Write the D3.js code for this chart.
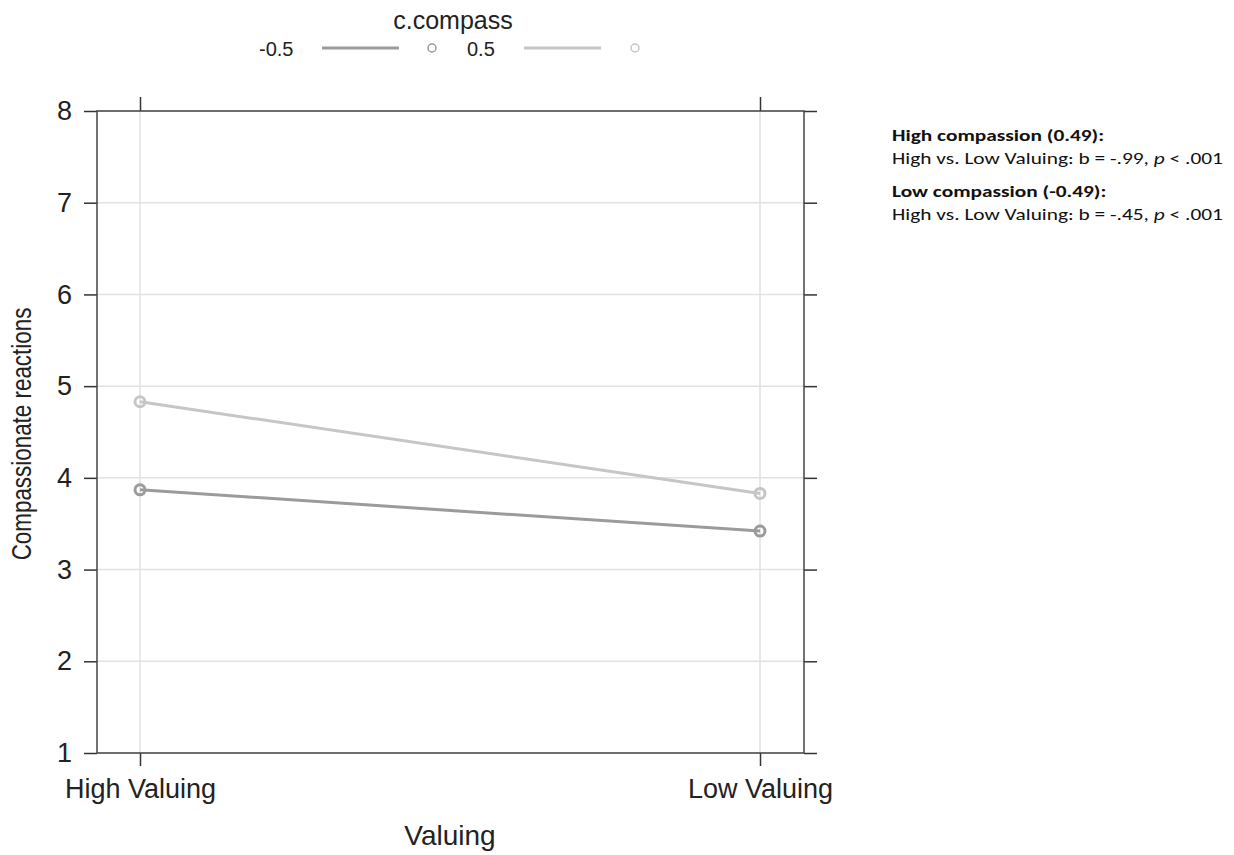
<!DOCTYPE html>
<html>
<head>
<meta charset="utf-8">
<script src="https://cdn.jsdelivr.net/npm/d3@7"></script>
<style>
  body { margin: 0; background: #fff; }
  svg { display: block; }
</style>
</head>
<body>
<svg width="1234" height="855"></svg>
<script>
// Données
let categories = ["High Valuing", "Low Valuing"];
let groupes = ["-0.5", "0.5"];
let valeursBas = [3.87, 3.42];   // c.compass = -0.5
let valeursHaut = [4.83, 3.83];  // c.compass = 0.5
let ticksY = [1, 2, 3, 4, 5, 6, 7, 8];
let notes = [
    { titre: "High compassion (0.49):", b: "-.99" },
    { titre: "Low compassion (-0.49):", b: "-.45" }
];

let svg = d3.select("svg");
let couleurs = ["#9b9b9b", "#c6c6c6"];
let series = [valeursBas, valeursHaut];

// Zone du panneau
let gauche = 97, droite = 804, haut = 111, bas = 753;

let x = d3.scalePoint()
    .domain(categories)
    .range([140, 760]);

let y = d3.scaleLinear()
    .domain([1, 8])
    .range([bas, haut]);

let police = "Liberation Sans, Arial, sans-serif";

// Grille
svg.append("g").selectAll("line")
    .data(ticksY)
    .enter().append("line")
    .attr("x1", gauche).attr("x2", droite)
    .attr("y1", d => y(d)).attr("y2", d => y(d))
    .attr("stroke", "#e2e2e2").attr("stroke-width", 1.5);

svg.append("g").selectAll("line")
    .data(categories)
    .enter().append("line")
    .attr("x1", d => x(d)).attr("x2", d => x(d))
    .attr("y1", haut).attr("y2", bas)
    .attr("stroke", "#e2e2e2").attr("stroke-width", 1.5);

// Axes (ticks des quatre côtés)
let axeG = svg.append("g")
    .attr("transform", "translate(" + gauche + ",0)")
    .call(d3.axisLeft(y).tickValues(ticksY).tickSize(13).tickPadding(12).tickFormat(d3.format("d")));
let axeD = svg.append("g")
    .attr("transform", "translate(" + droite + ",0)")
    .call(d3.axisRight(y).tickValues(ticksY).tickSize(13).tickFormat(""));
let axeB = svg.append("g")
    .attr("transform", "translate(0," + bas + ")")
    .call(d3.axisBottom(x).tickSize(13).tickPadding(13));
let axeH = svg.append("g")
    .attr("transform", "translate(0," + haut + ")")
    .call(d3.axisTop(x).tickSize(14).tickFormat(""));

[axeG, axeD, axeB, axeH].forEach(function (a) {
    a.select(".domain").remove();
    a.selectAll(".tick line").attr("stroke", "#333").attr("stroke-width", 1.5);
    a.selectAll("text")
        .style("font-family", police)
        .style("font-size", "27px")
        .attr("fill", "#222");
});

// Cadre
svg.append("rect")
    .attr("x", gauche).attr("y", haut)
    .attr("width", droite - gauche).attr("height", bas - haut)
    .attr("fill", "none")
    .attr("stroke", "#444").attr("stroke-width", 1.5);

// Lignes et points
let ligne = d3.line()
    .x((d, i) => x(categories[i]))
    .y(d => y(d));

series.forEach(function (s, k) {
    svg.append("path")
        .datum(s)
        .attr("d", ligne)
        .attr("fill", "none")
        .attr("stroke", couleurs[k])
        .attr("stroke-width", 3);

    svg.append("g").selectAll("circle")
        .data(s)
        .enter().append("circle")
        .attr("cx", (d, i) => x(categories[i]))
        .attr("cy", d => y(d))
        .attr("r", 5)
        .attr("fill", "none")
        .attr("stroke", couleurs[k])
        .attr("stroke-width", 3);
});

// Titres des axes
svg.append("text")
    .attr("x", 450).attr("y", 845)
    .attr("text-anchor", "middle")
    .style("font-family", police).style("font-size", "28px")
    .attr("fill", "#222")
    .text("Valuing");

// le titre vertical est plus court dans l'original
svg.append("text")
    .attr("transform", "translate(31,434) rotate(-90) scale(0.8,1)")
    .attr("text-anchor", "middle")
    .style("font-family", police).style("font-size", "28px")
    .attr("fill", "#222")
    .text("Compassionate reactions");

// Légende
svg.append("text")
    .attr("x", 453).attr("y", 29)
    .attr("text-anchor", "middle")
    .style("font-family", police).style("font-size", "25px")
    .attr("fill", "#222")
    .text("c.compass");

let legX = [[259, 322, 432], [467, 524, 635]];
groupes.forEach(function (g, k) {
    svg.append("text")
        .attr("x", legX[k][0]).attr("y", 56)
        .style("font-family", police).style("font-size", "20px")
        .attr("fill", "#222")
        .text(g);
    svg.append("line")
        .attr("x1", legX[k][1]).attr("x2", legX[k][1] + 77)
        .attr("y1", 48).attr("y2", 48)
        .attr("stroke", couleurs[k]).attr("stroke-width", 3);
    svg.append("circle")
        .attr("cx", legX[k][2]).attr("cy", 48).attr("r", 4)
        .attr("fill", "none")
        .attr("stroke", couleurs[k]).attr("stroke-width", 1.5);
});

// Annotations
let police2 = "Carlito, Calibri, 'Open Sans', sans-serif";
let largeurCible = 331;
let echelle = 1;
notes.forEach(function (n, k) {
    let y0 = 141 + k * 56;
    svg.append("text")
        .attr("class", "note")
        .attr("x", 0).attr("y", 0)
        .attr("transform", "translate(892," + y0 + ")")
        .style("font-family", police2).style("font-size", "16px")
        .style("font-weight", "bold")
        .attr("fill", "#111")
        .text(n.titre);
    let t = svg.append("text")
        .attr("class", "note stat")
        .attr("x", 0).attr("y", 0)
        .attr("transform", "translate(892," + (y0 + 23) + ")")
        .style("font-family", police2).style("font-size", "16px")
        .attr("fill", "#111");
    t.append("tspan").text("High vs. Low Valuing: b = " + n.b + ", ");
    t.append("tspan").style("font-style", "italic").text("p");
    t.append("tspan").text(" < .001");
});
// ajuster la largeur des annotations (seulement à l'horizontale)
let w = svg.select("text.stat").node().getComputedTextLength();
echelle = largeurCible / w;
svg.selectAll("text.note").each(function () {
    let tr = d3.select(this).attr("transform");
    d3.select(this).attr("transform", tr + " scale(" + echelle + ",1)");
});
</script>
</body>
</html>
